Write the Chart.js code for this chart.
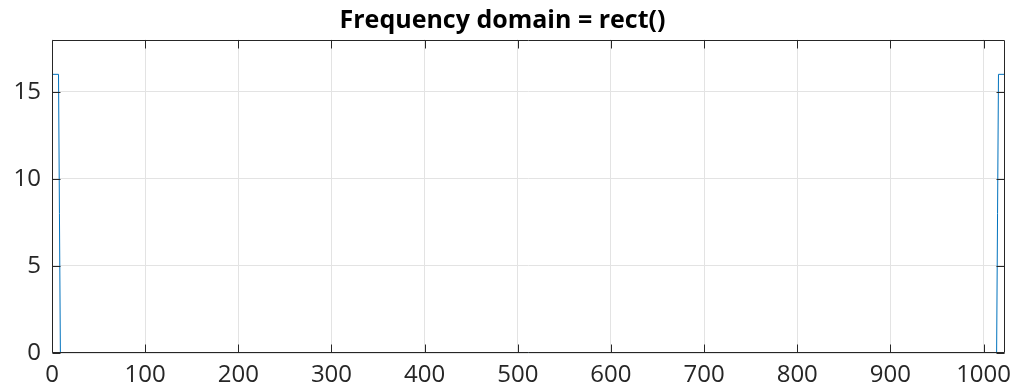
<!DOCTYPE html>
<html>
<head>
<meta charset="utf-8">
<script src="https://cdn.jsdelivr.net/npm/chart.js@4/dist/chart.umd.min.js"></script>
<style>
html,body{margin:0;padding:0;background:#fff;}
#wrap{width:1024px;height:386px;position:relative;}
</style>
</head>
<body>
<div id="wrap"><canvas id="c" width="1024" height="386"></canvas></div>
<script>
// Data: breakpoints of the plotted polyline (sample index vs magnitude)
const xValues = [0, 7, 8, 9, 1014, 1015, 1016, 1023];
const yValues = [16, 16, 8, 0, 0, 8, 16, 16];
const xTicks = [0, 100, 200, 300, 400, 500, 600, 700, 800, 900, 1000];
const yTicks = [0, 5, 10, 15];
const titleText = 'Frequency domain = rect()';

const points = xValues.map((x, i) => ({x: x, y: yValues[i]}));

const tickFont = {family: '"Open Sans", "Liberation Sans", sans-serif', size: 24};
const axisColor = '#262626';

const boxTicks = {
  id: 'boxTicks',
  afterDatasetsDraw(chart) {
    const {ctx, chartArea: a, scales} = chart;
    const L = Math.round(a.left) + 0.5, R = Math.round(a.right) - 0.5;
    const T = Math.round(a.top) + 0.5, B = Math.round(a.bottom) - 0.5;
    ctx.save();
    ctx.strokeStyle = axisColor;
    ctx.lineWidth = 1;
    ctx.beginPath();
    ctx.rect(L, T, R - L, B - T);
    ctx.stroke();
    const len = 8;
    ctx.beginPath();
    xTicks.forEach(v => {
      const px = Math.round(scales.x.getPixelForValue(v)) + 0.5;
      ctx.moveTo(px, B); ctx.lineTo(px, B - len);
      ctx.moveTo(px, T); ctx.lineTo(px, T + len);
    });
    yTicks.forEach(v => {
      const py = Math.round(scales.y.getPixelForValue(v)) + 0.5;
      ctx.moveTo(L, py); ctx.lineTo(L + len, py);
      ctx.moveTo(R, py); ctx.lineTo(R - len, py);
    });
    ctx.stroke();
    ctx.restore();
  }
};

new Chart(document.getElementById('c'), {
  type: 'line',
  data: {
    datasets: [{
      data: points,
      borderColor: '#0072BD',
      borderWidth: 1,
      pointRadius: 0,
      tension: 0,
      fill: false
    }]
  },
  options: {
    responsive: false,
    animation: false,
    events: [],
    layout: {padding: {left: 0, right: 19, top: 0, bottom: 0}},
    plugins: {
      legend: {display: false},
      tooltip: {enabled: false},
      title: {
        display: true,
        text: titleText,
        color: '#000',
        font: {family: '"Open Sans", "Liberation Sans", sans-serif', size: 25, weight: 'bold', lineHeight: 1.2},
        padding: {top: 6, bottom: 3.5}
      }
    },
    scales: {
      x: {
        type: 'linear',
        min: 0,
        max: 1023,
        afterBuildTicks(scale) { scale.ticks = xTicks.map(v => ({value: v})); },
        afterFit(scale) { scale.height = 33; },
        grid: {color: '#e3e3e3', drawTicks: false, lineWidth: 1},
        border: {display: false},
        ticks: {color: '#262626', font: tickFont, padding: 8, maxRotation: 0, autoSkip: false,
                callback: v => String(v)}
      },
      y: {
        type: 'linear',
        min: 0,
        max: 18,
        afterBuildTicks(scale) { scale.ticks = yTicks.map(v => ({value: v})); },
        afterFit(scale) { scale.width = 52; },
        grid: {color: '#e3e3e3', drawTicks: false, lineWidth: 1},
        border: {display: false},
        ticks: {color: '#262626', font: tickFont, padding: 11, callback: v => String(v)}
      }
    }
  },
  plugins: [boxTicks]
});
</script>
</body>
</html>
